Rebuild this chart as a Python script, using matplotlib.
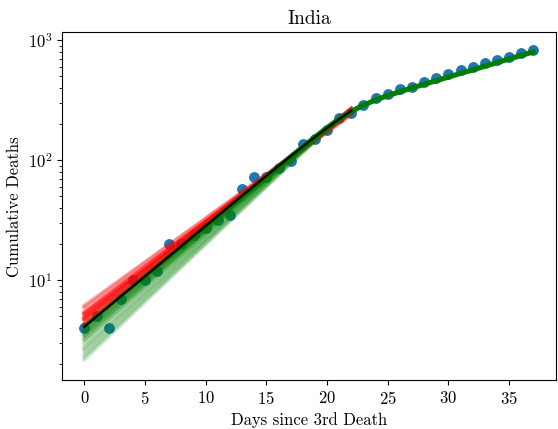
import numpy as np
import matplotlib

matplotlib.use("Agg")
import matplotlib.pyplot as plt

plt.rcParams["font.family"] = "serif"
plt.rcParams["font.serif"] = ["cmr10", "DejaVu Serif"]
plt.rcParams["mathtext.fontset"] = "cm"
plt.rcParams["axes.formatter.use_mathtext"] = True

# cumulative deaths, India, from the 3rd death onward
DAYS = list(range(38))
DEATHS = [4, 5, 4, 7, 10, 10, 12, 20, 20, 24, 27, 32, 35, 58, 72, 72, 86, 99,
          136, 150, 178, 226, 246, 288, 331, 358, 393, 405, 448, 486, 521, 559,
          592, 645, 681, 721, 780, 825]

# exponential fits on the first 23 days: log10 level at day 17 and daily slope
RED_LEVEL = [2.02, 2.03, 2.01, 2.02, 2.02, 2.03, 2.02, 2.01, 2.02, 2.02, 2.03, 2.02,
             2.01, 2.02, 2.02, 2.02]
RED_SLOPE = [0.0725, 0.074, 0.075, 0.076, 0.0765, 0.077, 0.0775, 0.078, 0.0785,
             0.079, 0.0795, 0.080, 0.081, 0.0815, 0.082, 0.0825]
RED_END = 22

# slowing-growth fits on all days: early rate and final value
GREEN_G0 = [0.083, 0.0833, 0.0836, 0.084, 0.0843, 0.0846, 0.085, 0.0853, 0.0856,
            0.086, 0.0863, 0.0866, 0.087, 0.0875, 0.088, 0.0885, 0.089, 0.090,
            0.091, 0.092, 0.093, 0.094, 0.095, 0.096]
GREEN_END = [800, 795, 805, 800, 790, 800, 810, 800, 795, 805, 800, 790, 800, 810,
             800, 795, 805, 800, 790, 800, 805, 795, 800, 800]
GREEN_G1 = 0.03
GREEN_TC = 22
GREEN_W = 1.2

# best fit on the first 23 days
BLACK_START = 4.1
BLACK_G0, BLACK_G1, BLACK_TC, BLACK_W = 0.084, 0.03, 24, 2.5
BLACK_END = 22


def growth(t, g0, g1, tc, w):
    # integral of a daily log10 rate that drops from g0 to g1 around day tc
    return g1 * t - (g0 - g1) * w * np.logaddexp(0, (tc - t) / w)


fig = plt.figure(figsize=(5.58, 4.29), dpi=100)
ax = fig.add_axes([0.111, 0.114, 0.885, 0.811])

ax.scatter(DAYS, DEATHS, s=46, color="#1f77b4", zorder=1)

t_red = np.linspace(0, RED_END, 100)
for c, b in zip(RED_LEVEL, RED_SLOPE):
    ax.plot(t_red, 10 ** (c + b * (t_red - 17)), color="red", lw=3, alpha=0.3,
            zorder=2)

t_all = np.linspace(0, DAYS[-1], 300)
for g0, y_end in zip(GREEN_G0, GREEN_END):
    g = growth(t_all, g0, GREEN_G1, GREEN_TC, GREEN_W)
    logy = np.log10(y_end) - (g[-1] - g)
    ax.plot(t_all, 10 ** logy, color="green", lw=3, alpha=0.19, zorder=3)

g = growth(t_red, BLACK_G0, BLACK_G1, BLACK_TC, BLACK_W)
ax.plot(t_red, 10 ** (np.log10(BLACK_START) + g - g[0]), color="black", lw=1.8,
        alpha=0.85, zorder=4)

ax.set_yscale("log")
ax.set_ylim(1.47, 1166)
ax.set_xlim(-1.85, 38.85)
ax.set_xticks(range(0, 40, 5))
ax.tick_params(labelsize=12)
ax.set_xlabel("Days since 3rd Death", fontsize=12)
ax.set_ylabel("Cumulative Deaths", fontsize=12)
ax.set_title("India", fontsize=14)

fig.savefig("out.png", dpi=100)
